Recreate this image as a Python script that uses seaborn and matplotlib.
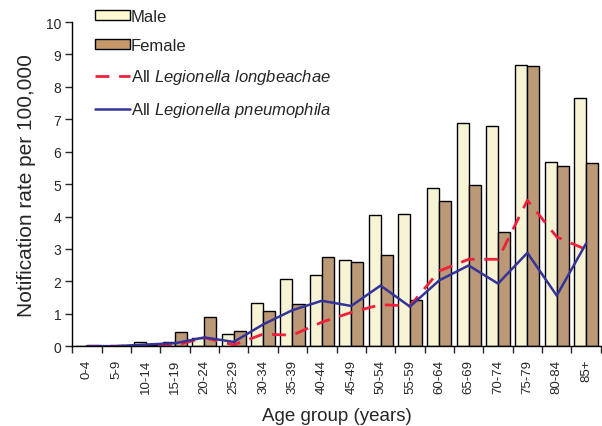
import seaborn as sns
from matplotlib import pyplot as plt
from matplotlib.patches import Patch
from matplotlib.lines import Line2D
from matplotlib.ticker import FixedLocator
import pandas as pd
import numpy as np

age_groups = ["0-4", "5-9", "10-14", "15-19", "20-24", "25-29", "30-34", "35-39",
              "40-44", "45-49", "50-54", "55-59", "60-64", "65-69", "70-74",
              "75-79", "80-84", "85+"]
male = [0, 0, 0.13, 0.12, 0.26, 0.36, 1.33, 2.07, 2.19, 2.65, 4.05, 4.07,
        4.89, 6.89, 6.79, 8.67, 5.68, 7.67]
female = [0, 0, 0.05, 0.43, 0.89, 0.48, 1.1, 1.29, 2.75, 2.6, 2.82, 1.41,
          4.47, 4.96, 3.53, 8.65, 5.55, 5.64]
longbeachae = [0, 0, 0.02, 0.02, 0.26, 0.04, 0.37, 0.34, 0.74, 1.04, 1.28, 1.24,
               2.32, 2.68, 2.68, 4.5, 3.37, 2.98]
pneumophila = [0, 0, 0.05, 0.09, 0.27, 0.13, 0.67, 1.11, 1.4, 1.24, 1.87, 1.22,
               2.03, 2.49, 1.93, 2.88, 1.56, 3.17]

male_color = "#fdf9d0"
female_color = "#c6996a"
red = "#f0203c"
blue = "#333399"


def create_graph():
    sns.set_style("ticks")
    plt.rcParams['font.family'] = ['Liberation Sans', 'DejaVu Sans']
    plt.rcParams['mathtext.fontset'] = 'custom'
    plt.rcParams['mathtext.rm'] = 'Liberation Sans'
    plt.rcParams['mathtext.it'] = 'Liberation Sans:italic'

    fig = plt.figure(figsize=(6.02, 4.27), dpi=100)
    ax = fig.add_axes([0.12, 0.187, 0.878, 0.759])

    bars = pd.DataFrame({
        "age": age_groups * 2,
        "rate": male + female,
        "sex": ["Male"] * len(age_groups) + ["Female"] * len(age_groups),
    })
    sns.barplot(data=bars, x="age", y="rate", hue="sex", order=age_groups,
                palette={"Male": male_color, "Female": female_color},
                width=0.82, edgecolor="black", linewidth=1.0, legend=False, ax=ax)

    pos = np.arange(len(age_groups))
    sns.lineplot(x=pos, y=longbeachae, color=red, linewidth=2, ax=ax)
    ax.lines[-1].set_dashes([5, 3.5])
    sns.lineplot(x=pos, y=pneumophila, color=blue, linewidth=1.8, ax=ax)

    ax.set_xlim(-0.5, len(age_groups) - 0.5)
    ax.set_ylim(0, 10)
    ax.set_yticks(np.arange(0, 11, 1))
    ax.set_xticks(pos)
    ax.set_xticklabels(age_groups, rotation=90, fontsize=9.5)
    ax.tick_params(axis="x", which="major", length=0, pad=9)
    ax.xaxis.set_minor_locator(FixedLocator(np.arange(-0.5, len(age_groups), 1)))
    ax.tick_params(axis="x", which="minor", length=5, width=1, direction="out")
    ax.tick_params(axis="y", labelsize=10, length=5, width=1, pad=3)
    ax.set_xlabel("Age group (years)", fontsize=13.5, labelpad=10)
    ax.set_ylabel("Notification rate per 100,000", fontsize=15, labelpad=7)
    sns.despine(ax=ax)
    for s in ["left", "bottom"]:
        ax.spines[s].set_linewidth(1)
        ax.spines[s].set_color("black")

    handles = [
        Patch(facecolor=male_color, edgecolor="black", linewidth=1.0),
        Patch(facecolor=female_color, edgecolor="black", linewidth=1.0),
        Line2D([], [], color=red, linewidth=2, dashes=[5, 3.5]),
        Line2D([], [], color=blue, linewidth=1.8),
    ]
    labels = ["Male", "Female",
              r"All $\it{Legionella\ longbeachae}$",
              r"All $\it{Legionella\ pneumophila}$"]
    ax.legend(handles, labels, loc="upper left", bbox_to_anchor=(0.03, 1.062),
              frameon=False, fontsize=12, handlelength=2.1, handleheight=0.55,
              handletextpad=0.05, labelspacing=0.85, borderaxespad=0)
    return fig


if __name__ == "__main__":
    fig = create_graph()
    fig.savefig("out.png", dpi=100)
